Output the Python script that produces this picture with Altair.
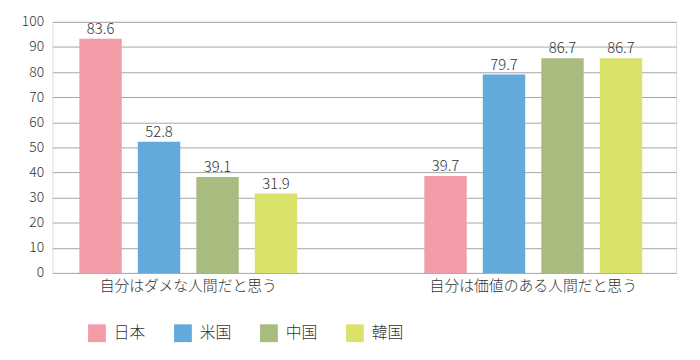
import altair as alt
import pandas as pd

categories = ["自分はダメな人間だと思う", "自分は価値のある人間だと思う"]
countries = ["日本", "米国", "中国", "韓国"]
colors = ["#F29CA7", "#62A9DC", "#A9BC7F", "#DAE26A"]
# printed labels
values_g1 = [83.6, 52.8, 39.1, 31.9]
values_g2 = [39.7, 79.7, 86.7, 86.7]
# bar heights as drawn in the picture
heights_g1 = [93.3, 52.2, 38.2, 31.6]
heights_g2 = [38.6, 79.0, 85.5, 85.5]
y_ticks = [0, 10, 20, 30, 40, 50, 60, 70, 80, 90, 100]

rows = []
for cat, vals, hs in [(categories[0], values_g1, heights_g1), (categories[1], values_g2, heights_g2)]:
    for c, v, h in zip(countries, vals, hs):
        rows.append({"category": cat, "country": c, "value": v, "height": h})
df = pd.DataFrame(rows)

FONT = "Noto Sans CJK JP"

x = alt.X("category:N", sort=categories, title=None,
          scale=alt.Scale(paddingInner=0.321, paddingOuter=0.0645, align=0.42),
          axis=alt.Axis(labelAngle=0, domain=False, ticks=False, labelPadding=6,
                        labelFontSize=15, labelColor="#333333", labelFont=FONT,
                        labelFontWeight=300, labelLimit=0))
xo = alt.XOffset("country:N", sort=countries,
                 scale=alt.Scale(paddingInner=0.275, paddingOuter=0.14))
y = alt.Y("height:Q", title=None,
          scale=alt.Scale(domain=[0, 100], nice=False),
          axis=alt.Axis(values=y_ticks, domain=False, ticks=False, labelPadding=9,
                        labelFontSize=14, labelColor="#333333", labelFont=FONT,
                        labelFontWeight=300, labelOverlap=False,
                        gridColor="#a6a6a6", gridWidth=1, gridOpacity=1))

bars = alt.Chart(df).mark_bar().encode(
    x=x, xOffset=xo, y=y,
    color=alt.Color("country:N", sort=countries,
                    scale=alt.Scale(domain=countries, range=colors),
                    legend=alt.Legend(title=None, orient="none", direction="horizontal",
                                      legendX=36, legendY=306, columns=4,
                                      symbolType="square", symbolSize=324,
                                      symbolStrokeWidth=0, symbolOpacity=1,
                                      labelFontSize=16, labelFont=FONT, labelColor="#333333",
                                      labelFontWeight=300,
                                      labelOffset=8, columnPadding=28)),
)

labels = alt.Chart(df).mark_text(baseline="bottom", dy=-2, fontSize=15, font=FONT,
                                 fontWeight=300, color="#333333").encode(
    x=x, xOffset=xo, y=y,
    text=alt.Text("value:Q", format=".1f"),
)

chart = (bars + labels).properties(
    width=631, height=254,
    autosize=alt.AutoSizeParams(type="none"),
    padding={"left": 45, "top": 12, "right": 16, "bottom": 80},
).configure_view(stroke=None).configure(background="white")

chart.save("out.html", embed_options={"renderer": "svg", "actions": False})
